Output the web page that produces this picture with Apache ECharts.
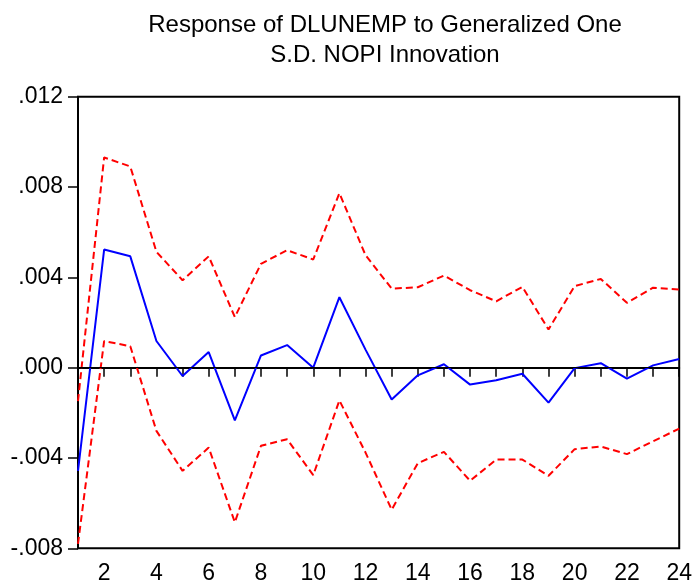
<!DOCTYPE html>
<html>
<head>
<meta charset="utf-8">
<script src="https://cdn.jsdelivr.net/npm/echarts@6/dist/echarts.min.js"></script>
<style>
  body { margin: 0; background: #fff; }
</style>
</head>
<body>
<div id="chart" style="width: 695px; height: 587px"></div>
<script>
// periods 1..24
const periods = [];
for (let i = 1; i <= 24; i++) periods.push(String(i));

// impulse response (blue)
const response = [
  -0.00457, 0.00523, 0.00493, 0.00118, -0.00037, 0.00069, -0.00233, 0.00054,
  0.001, 0.0, 0.00312, 0.0008, -0.00141, -0.00034, 0.00015, -0.00075,
  -0.00056, -0.00027, -0.00155, -0.00002, 0.0002, -0.00049, 0.0001, 0.00038,
];
// +/- 2 S.E. bands (red dashed)
const upperBand = [
  -0.00148, 0.00931, 0.00891, 0.00513, 0.00387, 0.00493, 0.00224, 0.0046,
  0.0052, 0.00479, 0.00773, 0.00498, 0.0035, 0.00356, 0.00408, 0.00343,
  0.00294, 0.00358, 0.00169, 0.00361, 0.00393, 0.00287, 0.00354, 0.00346,
];
const lowerBand = [
  -0.0078, 0.00118, 0.00095, -0.0028, -0.00457, -0.00354, -0.00685, -0.00346,
  -0.00317, -0.00476, -0.00145, -0.00376, -0.00629, -0.00423, -0.00373, -0.00501,
  -0.00407, -0.00407, -0.00479, -0.00361, -0.00349, -0.00383, -0.00326, -0.0027,
];

const font = "'Liberation Sans', Arial, sans-serif";

const chart = echarts.init(document.getElementById("chart"));

const option = {
  backgroundColor: "#fff",
  animation: false,
  title: {
    text: "Response of DLUNEMP to Generalized One\nS.D. NOPI Innovation",
    left: 380,
    top: 5,
    textAlign: "center",
    textStyle: {
      fontFamily: font,
      fontSize: 24,
      fontWeight: "normal",
      color: "#000",
      lineHeight: 30,
    },
  },
  grid: {
    left: 78,
    right: 13.5,
    top: 96.7,
    bottom: 38.7,
    show: true,
    borderColor: "#000",
    borderWidth: 2,
    containLabel: false,
  },
  xAxis: {
    type: "category",
    data: periods,
    boundaryGap: false,
    axisLine: { lineStyle: { color: "#000", width: 2 } },
    axisTick: { interval: 0, length: 9, lineStyle: { color: "#000", width: 1.5 } },
    axisLabel: {
      interval: function (index, value) {
        return Number(value) % 2 === 0;
      },
      margin: 14,
      color: "#000",
      fontFamily: font,
      fontSize: 23,
    },
    splitLine: { show: false },
  },
  yAxis: {
    type: "value",
    min: -0.008,
    max: 0.012,
    interval: 0.004,
    axisLine: { show: true, lineStyle: { color: "#000", width: 2 } },
    axisTick: { show: true, length: 10, lineStyle: { color: "#000", width: 1.5 } },
    axisLabel: {
      margin: 15,
      color: "#000",
      fontFamily: font,
      fontSize: 23,
      formatter: function (v) {
        return v.toFixed(3).replace("0.", ".");
      },
    },
    splitLine: { show: false },
  },
  series: [
    {
      name: "upper",
      type: "line",
      data: upperBand,
      symbol: "none",
      lineStyle: { color: "#FF0000", width: 2, type: [7, 4] },
    },
    {
      name: "lower",
      type: "line",
      data: lowerBand,
      symbol: "none",
      lineStyle: { color: "#FF0000", width: 2, type: [7, 4] },
    },
    {
      name: "response",
      type: "line",
      data: response,
      symbol: "none",
      lineStyle: { color: "#0000FF", width: 2 },
      markLine: {
        silent: true,
        symbol: "none",
        label: { show: false },
        lineStyle: { color: "#000", width: 1.2, type: "solid" },
        data: [{ yAxis: 0 }],
      },
    },
  ],
};
chart.setOption(option);
</script>
</body>
</html>
